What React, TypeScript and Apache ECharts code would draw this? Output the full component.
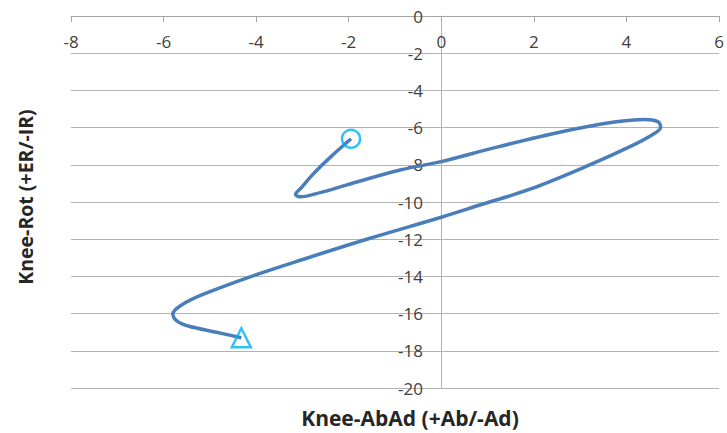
import React, { useEffect, useRef } from "react";
import * as echarts from "echarts";

// Knee-AbAd (x) vs Knee-Rot (y), traced in time order
const abad = [
  -1.95, -2.4, -2.77, -3.02, -3.15, -3.05, -2.6, -2.04, -0.89, 0, 1.2, 2.65,
  3.74, 4.39, 4.68, 4.74, 4.55, 4.1, 3.23, 1.93, 0.85, 0, -1.54, -2.98, -4.07,
  -5.15, -5.62, -5.8, -5.7, -5.45, -4.86, -4.32,
];
const rot = [
  -6.6, -7.6, -8.5, -9.22, -9.6, -9.72, -9.48, -9.08, -8.28, -7.83, -7.05,
  -6.2, -5.7, -5.56, -5.68, -5.98, -6.4, -7.0, -7.98, -9.3, -10.15, -10.82,
  -11.95, -13.08, -13.97, -14.97, -15.55, -16.02, -16.42, -16.68, -17.0, -17.3,
];
const startPoint = [abad[0], rot[0]];
const endPoint = [abad[abad.length - 1], rot[rot.length - 1]];

const xTitle = "Knee-AbAd (+Ab/-Ad)";
const yTitle = "Knee-Rot (+ER/-IR)";

const FONT = "'Open Sans', 'Noto Sans', sans-serif";

export default function App() {
  const ref = useRef<HTMLDivElement>(null);
  useEffect(() => {
    if (!ref.current) return;
    const chart = echarts.init(ref.current, undefined, { renderer: "svg" });
    const pts = abad.map((x, i) => [x, rot[i]]);
    chart.setOption({
      animation: false,
      backgroundColor: "#ffffff",
      grid: { left: 71, right: 8, top: 16, bottom: 45 },
      xAxis: {
        type: "value",
        min: -8,
        max: 6,
        interval: 2,
        position: "top",
        axisLine: { show: true, onZero: false, lineStyle: { color: "#a6a6a6", width: 1 } },
        axisTick: { show: true, inside: true, length: 6, lineStyle: { color: "#a6a6a6" } },
        axisLabel: {
          inside: true,
          margin: 17,
          color: "#404040",
          fontSize: 17,
          fontFamily: FONT,
        },
        splitLine: { show: false },
      },
      yAxis: {
        type: "value",
        min: -20,
        max: 0,
        interval: 2,
        axisLine: { show: true, onZero: true, lineStyle: { color: "#b3b3b3", width: 1 } },
        axisTick: { show: false },
        axisLabel: {
          margin: -352,
          color: "#404040",
          fontSize: 17,
          fontFamily: FONT,
        },
        splitLine: { show: true, lineStyle: { color: "#b3b3b3", width: 1 } },
      },
      series: [
        {
          type: "line",
          data: pts,
          smooth: 0.35,
          showSymbol: false,
          lineStyle: { color: "#4a7ebb", width: 3.5 },
          z: 2,
        },
        {
          type: "scatter",
          data: [startPoint],
          symbol: "circle",
          symbolSize: 18,
          itemStyle: { color: "rgba(0,0,0,0)", borderColor: "#00b0f0", borderWidth: 2.5 },
          z: 3,
        },
        {
          type: "scatter",
          data: [endPoint],
          symbol: "triangle",
          symbolSize: 19,
          itemStyle: { color: "rgba(0,0,0,0)", borderColor: "#00b0f0", borderWidth: 2.5 },
          z: 3,
        },
      ],
      graphic: [
        {
          type: "text",
          x: 410,
          y: 418,
          style: {
            text: xTitle,
            textAlign: "center",
            textVerticalAlign: "middle",
            fill: "#262626",
            font: `bold 21px ${FONT}`,
          },
        },
        {
          type: "text",
          x: 25,
          y: 197,
          rotation: Math.PI / 2,
          style: {
            text: yTitle,
            textAlign: "center",
            textVerticalAlign: "middle",
            fill: "#262626",
            font: `bold 19.5px ${FONT}`,
          },
        },
      ],
    });
    return () => chart.dispose();
  }, []);
  return (
    <div
      ref={ref}
      style={{ position: "fixed", left: 0, top: 0, width: 727, height: 433 }}
    />
  );
}
